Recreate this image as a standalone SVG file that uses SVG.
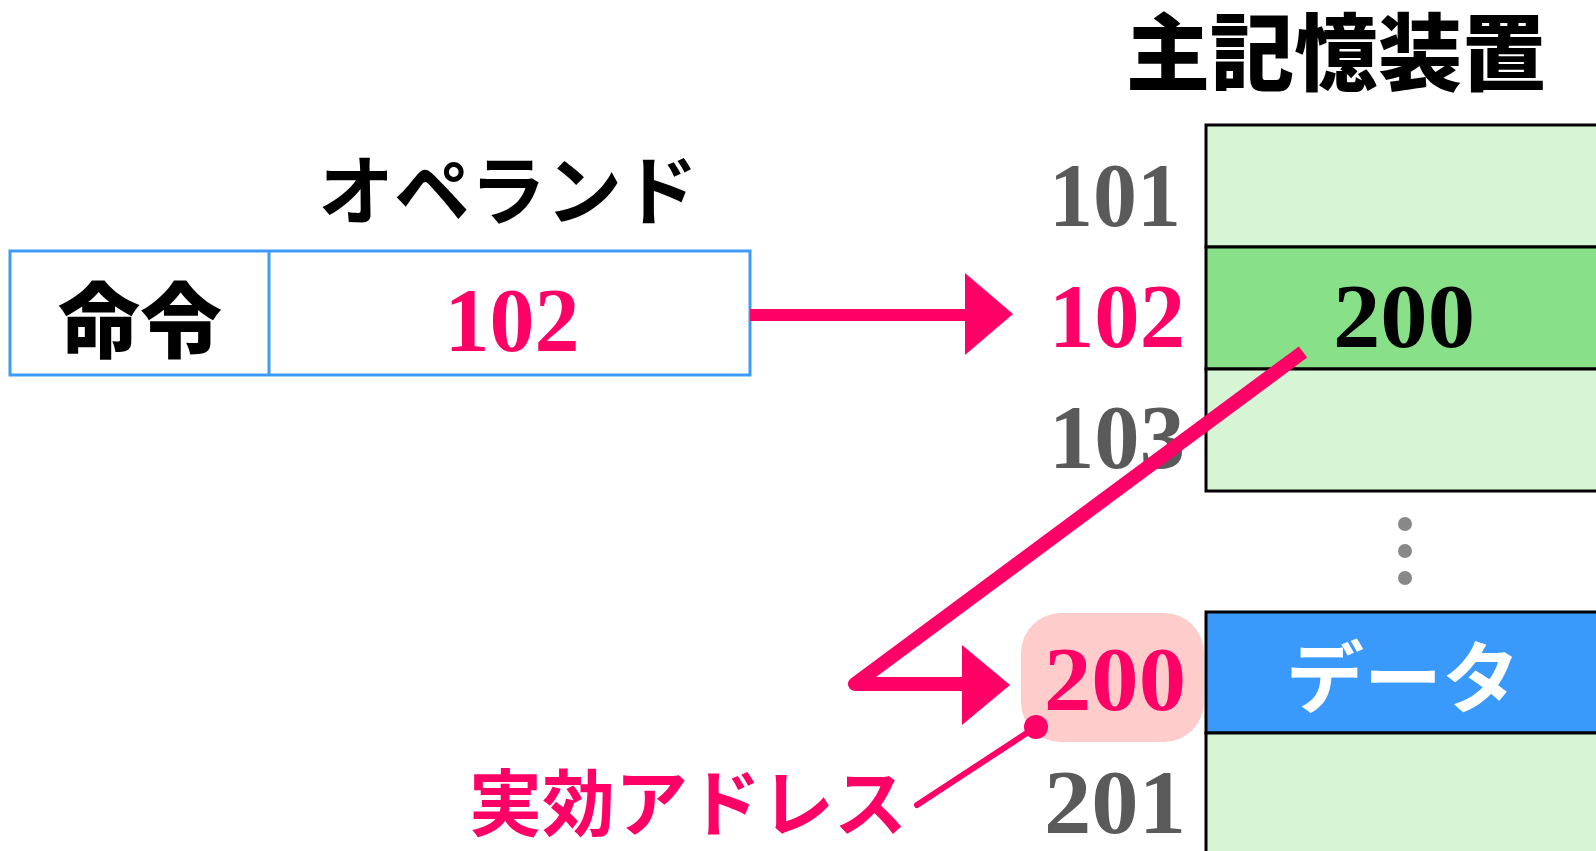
<svg xmlns="http://www.w3.org/2000/svg" width="1596" height="851" viewBox="0 0 1596 851">
<style>
.jp{font-family:"Noto Sans CJK JP","Noto Sans",sans-serif;}
.num{font-family:"Liberation Serif","DejaVu Serif",serif;font-weight:bold;}
.pink{fill:#ff0066;}
.gray{fill:#5a5a5a;}
.cell{stroke:#000;stroke-width:3;}
</style>
<rect width="1596" height="851" fill="#fff"/>
<g id="title"><text class="jp" x="1336" y="84" font-size="84" font-weight="900" text-anchor="middle">主記憶装置</text></g>
<g id="operand-label"><text class="jp" x="508" y="219" font-size="76" font-weight="bold" text-anchor="middle">オペランド</text></g>
<g id="instruction">
<rect x="10" y="251" width="740" height="124" fill="#fff" stroke="#3d9bf5" stroke-width="3"/>
<line x1="269" y1="251" x2="269" y2="375" stroke="#3d9bf5" stroke-width="3"/>
<text class="jp" x="140" y="351" font-size="82" font-weight="900" text-anchor="middle">命令</text>
<text class="num pink" x="512" y="351" font-size="92" text-anchor="middle" textLength="135" lengthAdjust="spacingAndGlyphs">102</text>
</g>
<g id="memory">
<rect class="cell" x="1206" y="125" width="400" height="122" fill="#d5f5d5"/>
<rect class="cell" x="1206" y="247" width="400" height="122" fill="#88e088"/>
<rect class="cell" x="1206" y="369" width="400" height="122" fill="#d5f5d5"/>
<rect class="cell" x="1206" y="612" width="400" height="121" fill="#3a9afc"/>
<rect class="cell" x="1206" y="733" width="400" height="130" fill="#d5f5d5"/>
<text class="num" x="1404" y="347" font-size="92" text-anchor="middle" textLength="142" lengthAdjust="spacingAndGlyphs">200</text>
<text class="jp" x="1403" y="707" font-size="78" font-weight="bold" fill="#fff" text-anchor="middle">データ</text>
<circle cx="1405" cy="524" r="7" fill="#888"/>
<circle cx="1405" cy="551" r="7" fill="#888"/>
<circle cx="1405" cy="578" r="7" fill="#888"/>
</g>
<g id="addresses">
<rect x="1021" y="613" width="183" height="129" rx="40" ry="40" fill="#ffcccc"/>
<text class="num gray" x="1115" y="226" font-size="92" text-anchor="middle" textLength="132" lengthAdjust="spacingAndGlyphs">101</text>
<text class="num pink" x="1117" y="347" font-size="92" text-anchor="middle" textLength="136" lengthAdjust="spacingAndGlyphs">102</text>
<text class="num gray" x="1117" y="468" font-size="92" text-anchor="middle" textLength="136" lengthAdjust="spacingAndGlyphs">103</text>
<text class="num pink" x="1115" y="710" font-size="92" text-anchor="middle" textLength="142" lengthAdjust="spacingAndGlyphs">200</text>
<text class="num gray" x="1115" y="833" font-size="92" text-anchor="middle" textLength="142" lengthAdjust="spacingAndGlyphs">201</text>
</g>
<g id="connectors" fill="#ff0066" stroke="#ff0066">
<line x1="750" y1="315" x2="968" y2="315" stroke-width="12"/>
<polygon points="965,273 1013,314 965,355" stroke="none"/>
<polyline points="1303,352 855,684 966,684" fill="none" stroke-width="14" stroke-linejoin="round"/>
<polygon points="962,645 1010,685 962,725" stroke="none"/>
<line x1="917" y1="805" x2="1036" y2="727" stroke-width="6" stroke-linecap="round"/>
<circle cx="1036" cy="727" r="12" stroke="none"/>
</g>
<g id="ea-label"><text class="jp pink" x="688" y="830" font-size="73" font-weight="bold" text-anchor="middle">実効アドレス</text></g>
</svg>
